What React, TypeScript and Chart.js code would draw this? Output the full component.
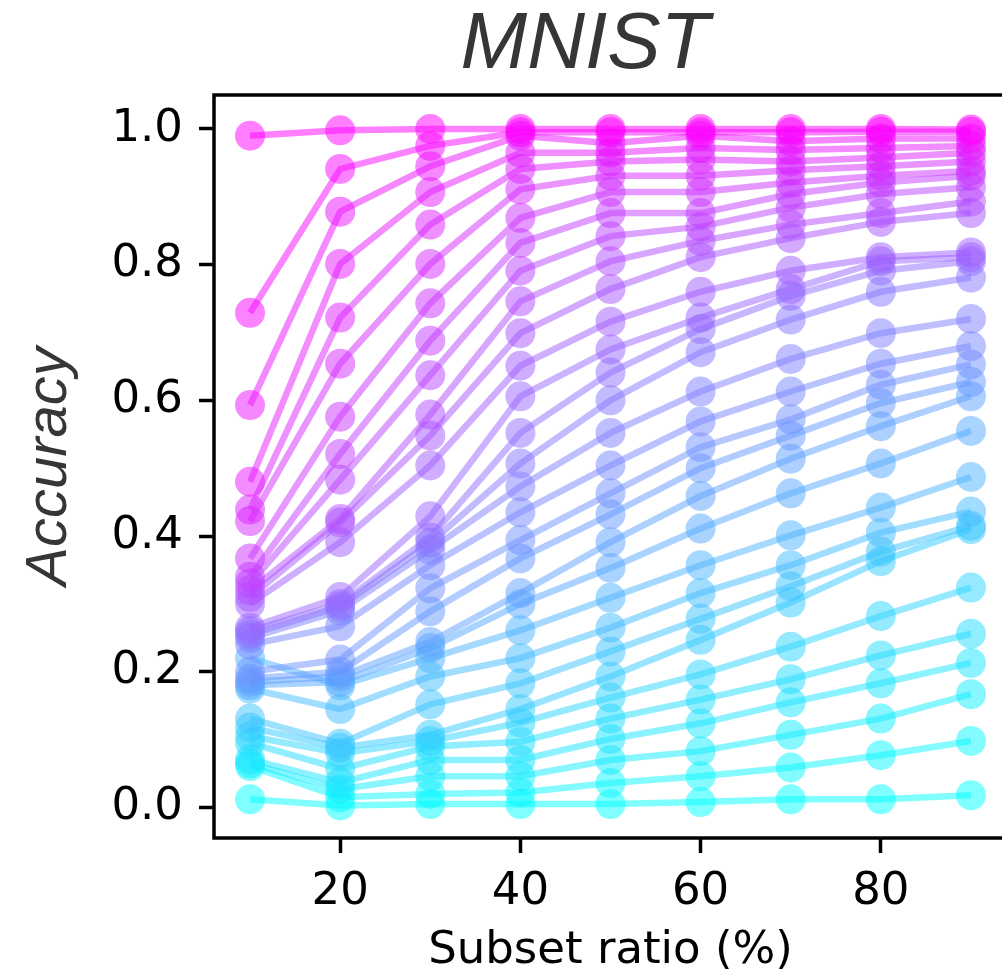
import React, { useEffect, useRef } from "react";
import { Chart, registerables } from "chart.js";

Chart.register(...registerables);

// Subset ratio (%) values on the x axis
const xValues = [10, 20, 30, 40, 50, 60, 70, 80, 90];

// Accuracy of each curve at a given subset ratio (index = curve, ordered cyan -> magenta)
const acc10 = [0.012, 0.061, 0.065, 0.071, 0.095, 0.105, 0.118, 0.131, 0.175, 0.22, 0.18, 0.185, 0.19, 0.2, 0.24, 0.25, 0.255, 0.26, 0.265, 0.3, 0.31, 0.32, 0.33, 0.34, 0.367, 0.422, 0.439, 0.48, 0.593, 0.729, 0.99];
const acc20 = [0.003, 0.015, 0.027, 0.037, 0.057, 0.08, 0.088, 0.094, 0.145, 0.18, 0.185, 0.193, 0.2, 0.218, 0.267, 0.29, 0.296, 0.3, 0.31, 0.391, 0.42, 0.425, 0.483, 0.521, 0.576, 0.654, 0.722, 0.801, 0.878, 0.941, 0.998];
const acc30 = [0.005, 0.02, 0.046, 0.07, 0.09, 0.098, 0.107, 0.152, 0.193, 0.22, 0.235, 0.244, 0.289, 0.323, 0.357, 0.38, 0.39, 0.398, 0.429, 0.504, 0.548, 0.579, 0.637, 0.688, 0.743, 0.801, 0.859, 0.907, 0.945, 0.975, 1.0];
const acc40 = [0.005, 0.022, 0.046, 0.07, 0.097, 0.125, 0.145, 0.183, 0.22, 0.261, 0.3, 0.316, 0.367, 0.394, 0.435, 0.473, 0.507, 0.552, 0.606, 0.651, 0.699, 0.746, 0.791, 0.832, 0.869, 0.911, 0.941, 0.965, 0.99, 0.995, 1.0];
const acc50 = [0.005, 0.036, 0.07, 0.101, 0.131, 0.162, 0.193, 0.23, 0.265, 0.309, 0.353, 0.391, 0.432, 0.463, 0.504, 0.552, 0.6, 0.641, 0.675, 0.716, 0.764, 0.805, 0.842, 0.876, 0.907, 0.931, 0.952, 0.965, 0.979, 0.995, 1.0];
const acc60 = [0.008, 0.046, 0.083, 0.124, 0.159, 0.196, 0.247, 0.278, 0.316, 0.357, 0.411, 0.459, 0.5, 0.531, 0.569, 0.613, 0.671, 0.705, 0.722, 0.76, 0.811, 0.835, 0.856, 0.876, 0.907, 0.931, 0.955, 0.972, 0.99, 0.995, 1.0];
const acc70 = [0.012, 0.059, 0.107, 0.155, 0.189, 0.237, 0.302, 0.326, 0.357, 0.401, 0.463, 0.514, 0.548, 0.572, 0.613, 0.661, 0.719, 0.754, 0.764, 0.791, 0.839, 0.859, 0.884, 0.904, 0.921, 0.939, 0.952, 0.969, 0.982, 0.995, 1.0];
const acc80 = [0.012, 0.077, 0.131, 0.183, 0.224, 0.282, 0.363, 0.377, 0.405, 0.442, 0.507, 0.562, 0.596, 0.623, 0.654, 0.699, 0.76, 0.791, 0.805, 0.811, 0.863, 0.876, 0.904, 0.921, 0.931, 0.945, 0.958, 0.972, 0.986, 0.996, 1.0];
const acc90 = [0.018, 0.098, 0.167, 0.213, 0.256, 0.324, 0.41, 0.415, 0.436, 0.487, 0.555, 0.606, 0.627, 0.653, 0.68, 0.72, 0.781, 0.805, 0.811, 0.818, 0.876, 0.893, 0.914, 0.931, 0.938, 0.952, 0.965, 0.975, 0.986, 0.996, 0.999];

const columns = [acc10, acc20, acc30, acc40, acc50, acc60, acc70, acc80, acc90];

const xTicks = [20, 40, 60, 80];
const yTicks = [0, 0.2, 0.4, 0.6, 0.8, 1.0];

const titleText = "MNIST";
const xLabel = "Subset ratio (%)";
const yLabel = "Accuracy";

function coolColor(t: number, alpha: number): string {
  const r = Math.round(255 * t);
  const g = Math.round(255 * (1 - t));
  return `rgba(${r}, ${g}, 255, ${alpha})`;
}

const framePlugin = {
  id: "frame",
  afterDatasetsDraw(chart: any) {
    const { ctx, chartArea } = chart;
    const { left, top, right, bottom } = chartArea;
    ctx.save();
    ctx.strokeStyle = "#000";
    ctx.lineWidth = 3.5;
    ctx.strokeRect(left, top, right - left, bottom - top);
    ctx.restore();
  },
};

const titlePlugin = {
  id: "plotTitle",
  afterDraw(chart: any) {
    const { ctx } = chart;
    ctx.save();
    ctx.font = 'italic 80px "Liberation Sans", Arial, sans-serif';
    ctx.fillStyle = "#363636";
    ctx.textAlign = "center";
    ctx.textBaseline = "alphabetic";
    ctx.fillText(titleText, 585, 68);
    ctx.restore();
  },
};

export default function App() {
  const canvasRef = useRef<HTMLCanvasElement | null>(null);

  useEffect(() => {
    if (!canvasRef.current) return;
    const n = acc10.length;
    const datasets = Array.from({ length: n }, (_, r) => {
      const c = coolColor(r / (n - 1), 0.5);
      return {
        label: `curve ${r + 1}`,
        data: xValues.map((x, j) => ({ x, y: columns[j][r] })),
        borderColor: c,
        backgroundColor: c,
        pointBackgroundColor: c,
        pointBorderWidth: 0,
        pointRadius: 15,
        borderWidth: 6.5,
        tension: 0,
        order: n - 1 - r,
      };
    });

    const chart = new Chart(canvasRef.current, {
      type: "line",
      data: { datasets },
      options: {
        responsive: false,
        animation: false,
        devicePixelRatio: 1,
        events: [],
        layout: { autoPadding: false, padding: { top: 95, left: 0, right: 3, bottom: 0 } },
        plugins: {
          legend: { display: false },
          tooltip: { enabled: false },
        },
        scales: {
          x: {
            type: "linear",
            position: "bottom",
            min: 6,
            max: 94,
            afterBuildTicks: (scale: any) => {
              scale.ticks = xTicks.map((v) => ({ value: v }));
            },
            afterFit: (scale: any) => {
              scale.height = 152;
            },
            ticks: {
              font: { family: "DejaVu Sans", size: 45 },
              color: "#000",
              padding: 12,
              maxRotation: 0,
              autoSkip: false,
              callback: (v: any) => String(v),
            },
            grid: {
              display: true,
              drawOnChartArea: false,
              drawTicks: true,
              tickLength: 15,
              tickWidth: 3.5,
              tickColor: "#000",
            },
            border: { display: false },
            title: {
              display: true,
              text: xLabel,
              font: { family: "DejaVu Sans", size: 45 },
              color: "#000",
              padding: { top: 0, bottom: 12 },
            },
          },
          y: {
            type: "linear",
            position: "left",
            min: -0.045,
            max: 1.05,
            afterBuildTicks: (scale: any) => {
              scale.ticks = yTicks.map((v) => ({ value: v }));
            },
            afterFit: (scale: any) => {
              scale.width = 214;
            },
            ticks: {
              font: { family: "DejaVu Sans", size: 45 },
              color: "#000",
              padding: 16,
              autoSkip: false,
              callback: (v: any) => Number(v).toFixed(1),
            },
            grid: {
              display: true,
              drawOnChartArea: false,
              drawTicks: true,
              tickLength: 15,
              tickWidth: 3.5,
              tickColor: "#000",
            },
            border: { display: false },
            title: {
              display: true,
              text: yLabel,
              font: { family: "Liberation Sans", size: 58, style: "italic" },
              color: "#363636",
              padding: { top: 15, bottom: 0 },
            },
          },
        },
      },
      plugins: [framePlugin, titlePlugin],
    });

    return () => chart.destroy();
  }, []);

  return (
    <div
      style={{
        position: "fixed",
        left: 0,
        top: 0,
        width: 1002,
        height: 978,
        overflow: "hidden",
        background: "#fff",
      }}
    >
      <canvas
        ref={canvasRef}
        width={1010}
        height={990}
        style={{ display: "block", width: 1010, height: 990 }}
      />
    </div>
  );
}
